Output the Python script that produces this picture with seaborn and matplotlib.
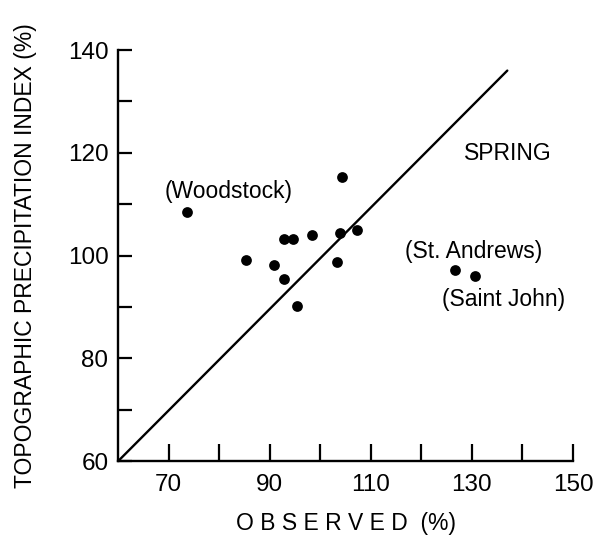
import matplotlib
matplotlib.use("Agg")
import matplotlib.pyplot as plt
import seaborn as sns
import pandas as pd

# Data
observed = [73.6, 104.3, 92.9, 94.6, 98.4, 103.8, 107.2, 85.3, 90.8, 103.3, 126.7, 130.6, 92.9, 95.3]
topographic = [108.5, 115.2, 103.2, 103.2, 104.0, 104.4, 105.0, 99.1, 98.1, 98.7, 97.1, 96.1, 95.4, 90.2]
line_x = [60, 137]
line_y = [60, 136]
x_ticks = [70, 80, 90, 100, 110, 120, 130, 140, 150]
x_tick_labels = ["70", "", "90", "", "110", "", "130", "", "150"]
y_ticks = [60, 70, 80, 90, 100, 110, 120, 130, 140]
y_tick_labels = ["60", "", "80", "", "100", "", "120", "", "140"]
labels = ["(Woodstock)", "SPRING", "(St. Andrews)", "(Saint John)"]
label_pos = [(81.9, 112.4), (137.2, 119.8), (130.3, 100.7), (136.3, 91.5)]

sns.set_theme(style="ticks")
plt.rcParams["font.family"] = ["Liberation Sans", "DejaVu Sans"]

fig = plt.figure(figsize=(6.0, 5.38), dpi=100)
ax = fig.add_axes([0.197, 0.143, 0.758, 0.764])

df = pd.DataFrame({"obs": observed, "tpi": topographic})
sns.lineplot(x=line_x, y=line_y, ax=ax, color="black", linewidth=1.7)
sns.scatterplot(data=df, x="obs", y="tpi", ax=ax, color="black", s=60,
                edgecolor="black", linewidth=0, zorder=3)

for t, (x, y) in zip(labels, label_pos):
    ax.text(x, y, t, ha="center", va="center", fontsize=16.5, color="black")

ax.set_xlim(60, 150)
ax.set_ylim(60, 140)
ax.set_xticks(x_ticks)
ax.set_xticklabels(x_tick_labels)
ax.set_yticks(y_ticks)
ax.set_yticklabels(y_tick_labels)
ax.tick_params(axis="x", direction="in", length=12, width=1.6, labelsize=17.5, pad=9, colors="black")
ax.tick_params(axis="y", direction="in", length=10, width=1.6, labelsize=17.5, pad=7, colors="black")

for side in ["top", "right"]:
    ax.spines[side].set_visible(False)
for side in ["left", "bottom"]:
    ax.spines[side].set_linewidth(1.7)
    ax.spines[side].set_color("black")

ax.set_xlabel("O B S E R V E D  (%)", fontsize=16.5, labelpad=12, color="black")
ax.set_ylabel("TOPOGRAPHIC PRECIPITATION INDEX (%)", fontsize=16.5, labelpad=22, color="black")

fig.savefig("out.png", dpi=100)
